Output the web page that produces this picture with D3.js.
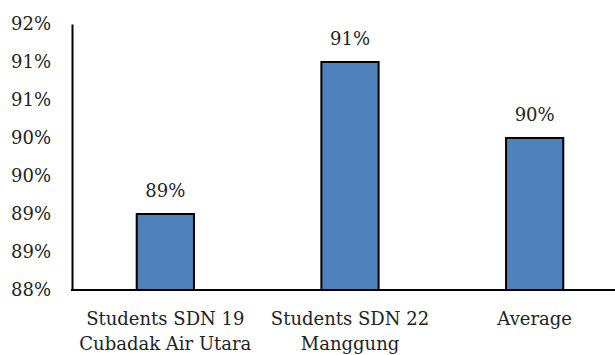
<!DOCTYPE html>
<html><head><meta charset="utf-8">
<script src="https://cdn.jsdelivr.net/npm/d3@7"></script>
<style>
html,body{margin:0;padding:0;background:#fff;}
svg text{font-family:"DejaVu Serif",serif !important;fill:#222;}
</style></head>
<body><svg id="c" width="615" height="355"></svg>
<script>
const categories = [["Students SDN 19","Cubadak Air Utara"],["Students SDN 22","Manggung"],["Average"]];
const values = [89, 91, 90];
const valueLabels = ["89%","91%","90%"];
const tickValues = [88, 88.5, 89, 89.5, 90, 90.5, 91, 91.5];
const tickLabels = ["88%","89%","89%","90%","90%","91%","91%","92%"];

const svg = d3.select("#c");
const mLeft = 73, mRight = 627, mTop = 24, mBottom = 290;
const x = d3.scaleBand().domain(d3.range(categories.length)).range([mLeft, mRight]).paddingInner(0.69).paddingOuter(0.345);
const y = d3.scaleLinear().domain([88, 91.5]).range([mBottom, mTop]);
const fs = 18;

// bars
svg.selectAll("rect.bar").data(values).join("rect")
  .attr("x", (d,i)=>x(i)).attr("width", x.bandwidth())
  .attr("y", d=>y(d)).attr("height", d=>mBottom - y(d))
  .attr("fill", "#4F81BD").attr("stroke", "#000").attr("stroke-width", 2);

// value labels
svg.selectAll("text.val").data(values).join("text")
  .attr("x", (d,i)=>x(i)+x.bandwidth()/2).attr("y", d=>y(d)-17)
  .attr("text-anchor","middle").attr("font-size", fs)
  .text((d,i)=>valueLabels[i]);

// y axis
const yAxis = d3.axisLeft(y).tickValues(tickValues).tickSize(0).tickPadding(21)
  .tickFormat((d,i)=>tickLabels[i]);
const gy = svg.append("g").attr("transform", `translate(${mLeft-1},0)`).call(yAxis);
gy.attr("font-family", null);
gy.select(".domain").attr("stroke","#000").attr("stroke-width",2);
gy.selectAll("text").attr("font-size", fs).attr("fill","#222");

// x axis
const xAxis = d3.axisBottom(x).tickSize(0).tickFormat(()=> "");
const gx = svg.append("g").attr("transform", `translate(0,${mBottom})`).call(xAxis);
gx.select(".domain").attr("stroke","#000").attr("stroke-width",2).attr("d", `M${mLeft-2},0H${mRight}`);

// category labels
categories.forEach((lines,i)=>{
  lines.forEach((t,j)=>{
    svg.append("text").attr("x", x(i)+x.bandwidth()/2).attr("y", mBottom + 35 + j*25)
      .attr("text-anchor","middle").attr("font-size", fs).text(t);
  });
});
</script></body></html>
